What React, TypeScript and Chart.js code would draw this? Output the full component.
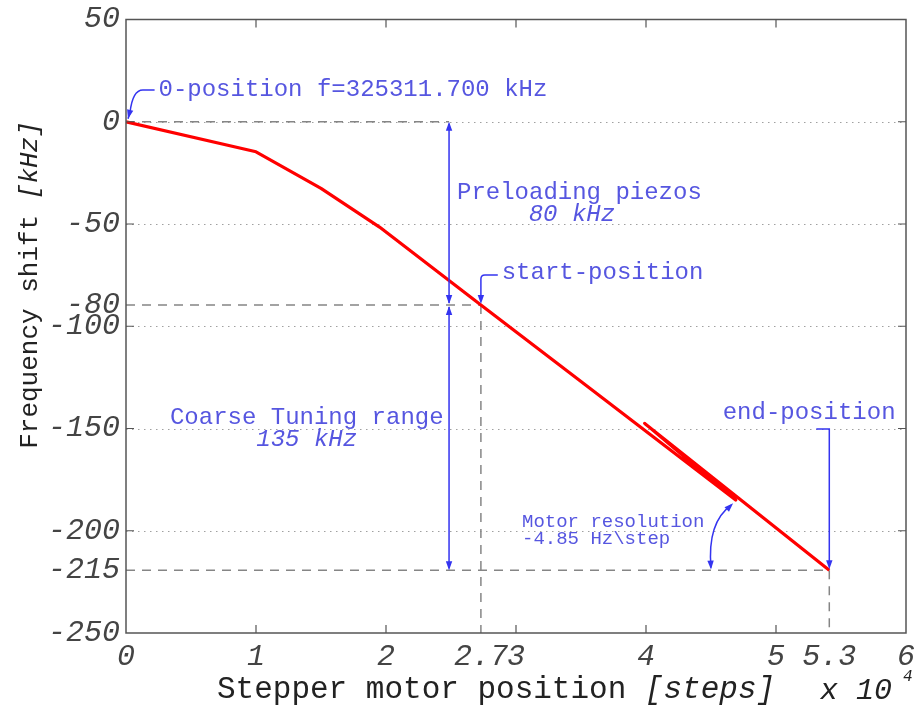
import React, { useEffect, useRef } from 'react';
import { Chart, registerables } from 'chart.js';

Chart.register(...registerables);

// Measured frequency shift curve (x in 10^4 steps, y in kHz); includes a small back-step near x=4
const curveX = [0, 1.0, 1.5, 1.95, 2.73, 3.5, 4.69, 3.99, 5.41];
const curveY = [0, -14.7, -32.6, -51.5, -89.6, -127, -185, -147.5, -219.3];

// Key positions: 0-position, start-position, end-position
const keyX = [0, 2.73, 5.41];
const keyY = [0, -89.6, -219.3];

// Axis ticks
const xTickValues = [0, 1, 2, 2.73, 3, 4, 5, 5.41, 6];
const xTickLabels = ['0', '1', '2', '2.7', '3', '4', '5', '5.3', '6'];
const yTickValues = [50, 0, -50, -89.6, -100, -150, -200, -219.3, -250];
const yTickLabels = ['50', '0', '-50', '-80', '-100', '-150', '-200', '-215', '-250'];
const gridYValues = [0, -50, -100, -150, -200];
const majorXTicks = [1, 2, 3, 4, 5];
const majorYTicks = [0, -50, -100, -150, -200];

// Range arrow position (x)
const rangeArrowX = 2.485;

const MONO = '"Liberation Mono", "Courier New", monospace';
const BLUE_TEXT = '#5656e0';
const BLUE_LINE = '#3434f0';
const GRAY_DASH = '#858585';

function arrowHead(ctx: CanvasRenderingContext2D, tx: number, ty: number, fx: number, fy: number, len = 9, half = 3.2) {
  const a = Math.atan2(ty - fy, tx - fx);
  const bx = tx - len * Math.cos(a);
  const by = ty - len * Math.sin(a);
  ctx.beginPath();
  ctx.moveTo(tx, ty);
  ctx.lineTo(bx + half * Math.sin(a), by - half * Math.cos(a));
  ctx.lineTo(bx - half * Math.sin(a), by + half * Math.cos(a));
  ctx.closePath();
  ctx.fill();
}

function drawRuns(ctx: CanvasRenderingContext2D, x: number, y: number, runs: [string, string][], align: 'left' | 'center' | 'right' = 'left') {
  let total = 0;
  for (const [t, f] of runs) {
    ctx.font = f;
    total += ctx.measureText(t).width;
  }
  let cx = align === 'center' ? x - total / 2 : align === 'right' ? x - total : x;
  ctx.textAlign = 'left';
  for (const [t, f] of runs) {
    ctx.font = f;
    ctx.fillText(t, cx, y);
    cx += ctx.measureText(t).width;
  }
}

const decorPlugin = {
  id: 'decor',
  beforeDatasetsDraw(chart: any) {
    const { ctx, chartArea, scales } = chart;
    const { left, right } = chartArea;
    const y = scales.y;
    ctx.save();
    ctx.strokeStyle = '#a0a0a0';
    ctx.lineWidth = 1;
    ctx.setLineDash([1.5, 4.5]);
    for (const v of gridYValues) {
      const py = Math.round(y.getPixelForValue(v)) + 0.5;
      ctx.beginPath();
      ctx.moveTo(left, py);
      ctx.lineTo(right, py);
      ctx.stroke();
    }
    ctx.restore();
  },
  afterDraw(chart: any) {
    const { ctx, chartArea, scales } = chart;
    const { left, right, top, bottom } = chartArea;
    const X = scales.x;
    const Y = scales.y;
    const px = (v: number) => X.getPixelForValue(v);
    const py = (v: number) => Y.getPixelForValue(v);
    ctx.save();

    // axes box + inward ticks
    ctx.strokeStyle = '#555';
    ctx.lineWidth = 1.5;
    ctx.setLineDash([]);
    ctx.strokeRect(left, top, right - left, bottom - top);
    ctx.lineWidth = 1.2;
    for (const v of majorXTicks) {
      const x = px(v);
      ctx.beginPath();
      ctx.moveTo(x, bottom); ctx.lineTo(x, bottom - 8);
      ctx.moveTo(x, top); ctx.lineTo(x, top + 8);
      ctx.stroke();
    }
    for (const v of majorYTicks) {
      const yy = py(v);
      ctx.beginPath();
      ctx.moveTo(left, yy); ctx.lineTo(left + 8, yy);
      ctx.moveTo(right, yy); ctx.lineTo(right - 8, yy);
      ctx.stroke();
    }

    // annotations
    ctx.strokeStyle = BLUE_LINE;
    ctx.fillStyle = BLUE_LINE;
    ctx.lineWidth = 1.5;

    // Preloading / coarse range double arrows
    const ax = px(rangeArrowX);
    const y0 = py(keyY[0]);
    const y1 = py(keyY[1]);
    const y2 = py(keyY[2]);
    ctx.beginPath();
    ctx.moveTo(ax, y0 + 2); ctx.lineTo(ax, y1 - 2);
    ctx.moveTo(ax, y1 + 2); ctx.lineTo(ax, y2 - 2);
    ctx.stroke();
    arrowHead(ctx, ax, y0, ax, y0 + 10);
    arrowHead(ctx, ax, y1 - 1, ax, y1 - 11);
    arrowHead(ctx, ax, y1 + 1, ax, y1 + 11);
    arrowHead(ctx, ax, y2, ax, y2 - 10);

    // 0-position bracket
    {
      const sx = px(0.22), sy = py(15.5);
      const cx1 = px(0.05), cy1 = py(15.5);
      const ex = px(keyX[0]) + 2, ey = py(keyY[0]) - 3;
      ctx.beginPath();
      ctx.moveTo(sx, sy);
      ctx.lineTo(px(0.13), sy);
      ctx.quadraticCurveTo(cx1, cy1, ex + 2, ey - 6);
      ctx.lineTo(ex, ey);
      ctx.stroke();
      arrowHead(ctx, ex, ey, ex + 2, ey - 8);
    }

    // start-position bracket
    {
      const sx = px(2.86), sy = py(-74.9);
      const vx = px(keyX[1]);
      const ey = py(keyY[1]) - 1;
      ctx.beginPath();
      ctx.moveTo(sx, sy);
      ctx.lineTo(vx + 4, sy);
      ctx.quadraticCurveTo(vx, sy, vx, sy + 4);
      ctx.lineTo(vx, ey - 4);
      ctx.stroke();
      arrowHead(ctx, vx, ey, vx, ey - 10);
    }

    // end-position bracket
    {
      const sx = px(5.31), sy = py(-150.2);
      const vx = px(keyX[2]);
      const ey = py(keyY[2]) - 1;
      ctx.beginPath();
      ctx.moveTo(sx, sy);
      ctx.lineTo(vx, sy);
      ctx.lineTo(vx, ey - 4);
      ctx.stroke();
      arrowHead(ctx, vx, ey, vx, ey - 10);
    }

    // Motor resolution arc
    {
      const ax0 = px(4.5), ay0 = py(-219);
      const cx1 = px(4.47), cy1 = py(-196);
      const ax1 = px(4.67), ay1 = py(-186.5);
      ctx.beginPath();
      ctx.moveTo(ax0, ay0 - 2);
      ctx.quadraticCurveTo(cx1, cy1, ax1 - 2, ay1 + 2);
      ctx.stroke();
      arrowHead(ctx, ax0, ay0, ax0 - 0.5, ay0 - 10);
      arrowHead(ctx, ax1, ay1, ax1 - 7, ay1 + 7);
    }

    // annotation texts
    ctx.fillStyle = BLUE_TEXT;
    ctx.textBaseline = 'middle';
    const F24 = `24px ${MONO}`;
    const F24I = `italic 24px ${MONO}`;
    const F19 = `19px ${MONO}`;
    drawRuns(ctx, px(0.25), py(15.5), [['0-position f=325311.700 kHz', F24]]);
    drawRuns(ctx, px(2.546), py(-34.8), [['Preloading piezos', F24]]);
    drawRuns(ctx, px(3.43), py(-45.6), [['80 kHz', F24I]], 'center');
    drawRuns(ctx, px(2.89), py(-74), [['start-position', F24]]);
    drawRuns(ctx, px(0.338), py(-144.8), [['Coarse Tuning range', F24]]);
    drawRuns(ctx, px(1.39), py(-155.6), [['135 kHz', F24I]], 'center');
    drawRuns(ctx, px(4.59), py(-142.4), [['end-position', F24]]);
    drawRuns(ctx, px(3.046), py(-195.5), [['Motor resolution', F19]]);
    drawRuns(ctx, px(3.046), py(-203.8), [['-4.85 Hz\\step', F19]]);

    // axis titles
    ctx.fillStyle = '#222';
    const FT = `31px ${MONO}`;
    const FTI = `italic 31px ${MONO}`;
    drawRuns(ctx, 217, 690, [['Stepper motor position ', FT], ['[steps]', FTI]]);
    drawRuns(ctx, 820, 691, [['x 10', `italic 30px ${MONO}`]]);
    drawRuns(ctx, 903, 677, [['4', `italic 16px ${MONO}`]]);

    ctx.save();
    ctx.translate(30, 285);
    ctx.rotate(-Math.PI / 2);
    drawRuns(ctx, 0, 0, [['Frequency shift ', `26px ${MONO}`], ['[kHz]', `italic 26px ${MONO}`]], 'center');
    ctx.restore();

    ctx.restore();
  },
};

export default function App() {
  const ref = useRef<HTMLCanvasElement | null>(null);
  useEffect(() => {
    if (!ref.current) return;
    const curve = curveX.map((x, i) => ({ x, y: curveY[i] }));
    const dash = (pts: { x: number; y: number }[]) => ({
      data: pts,
      borderColor: GRAY_DASH,
      borderWidth: 1.5,
      borderDash: [9, 7],
      pointRadius: 0,
      fill: false,
      tension: 0,
    });
    const chart = new Chart(ref.current, {
      type: 'line',
      data: {
        datasets: [
          {
            data: curve,
            borderColor: '#ff0000',
            borderWidth: 3.2,
            borderJoinStyle: 'round',
            pointRadius: 0,
            fill: false,
            tension: 0,
          } as any,
          dash([{ x: keyX[0], y: keyY[0] }, { x: rangeArrowX, y: keyY[0] }]),
          dash([{ x: keyX[0], y: keyY[1] }, { x: keyX[1], y: keyY[1] }]),
          dash([{ x: keyX[0], y: keyY[2] }, { x: keyX[2], y: keyY[2] }]),
          dash([{ x: keyX[1], y: keyY[1] }, { x: keyX[1], y: -250 }]),
          dash([{ x: keyX[2], y: keyY[2] }, { x: keyX[2], y: -250 }]),
        ],
      },
      options: {
        responsive: false,
        animation: false,
        layout: { padding: { left: 0, right: 11, top: 19.5, bottom: 0 } },
        plugins: { legend: { display: false }, tooltip: { enabled: false } },
        scales: {
          x: {
            type: 'linear',
            min: 0,
            max: 6,
            grid: { display: false, drawTicks: false },
            border: { display: false },
            afterBuildTicks: (s: any) => {
              s.ticks = xTickValues.map((v) => ({ value: v }));
            },
            afterFit: (s: any) => {
              s.height = 74;
              s.paddingLeft = 0;
              s.paddingRight = 0;
            },
            ticks: {
              autoSkip: false,
              maxRotation: 0,
              padding: 6,
              color: '#444',
              font: { family: MONO, size: 30, style: 'italic' },
              callback: (v: any) => {
                const i = xTickValues.indexOf(Number(v));
                return i >= 0 ? xTickLabels[i] : '';
              },
            },
          },
          y: {
            type: 'linear',
            min: -250,
            max: 50,
            grid: { display: false, drawTicks: false },
            border: { display: false },
            afterBuildTicks: (s: any) => {
              s.ticks = yTickValues.map((v) => ({ value: v }));
            },
            afterFit: (s: any) => {
              s.width = 126;
              s.paddingTop = 0;
              s.paddingBottom = 0;
            },
            ticks: {
              autoSkip: false,
              padding: 6,
              color: '#444',
              font: { family: MONO, size: 30, style: 'italic' },
              callback: (v: any) => {
                const i = yTickValues.indexOf(Number(v));
                return i >= 0 ? yTickLabels[i] : '';
              },
            },
          },
        },
      },
      plugins: [decorPlugin],
    });
    return () => chart.destroy();
  }, []);
  return (
    <div style={{ position: 'fixed', left: 0, top: 0, width: 917, height: 707, background: '#fff' }}>
      <canvas ref={ref} width={917} height={707} style={{ width: 917, height: 707, display: 'block' }} />
    </div>
  );
}
